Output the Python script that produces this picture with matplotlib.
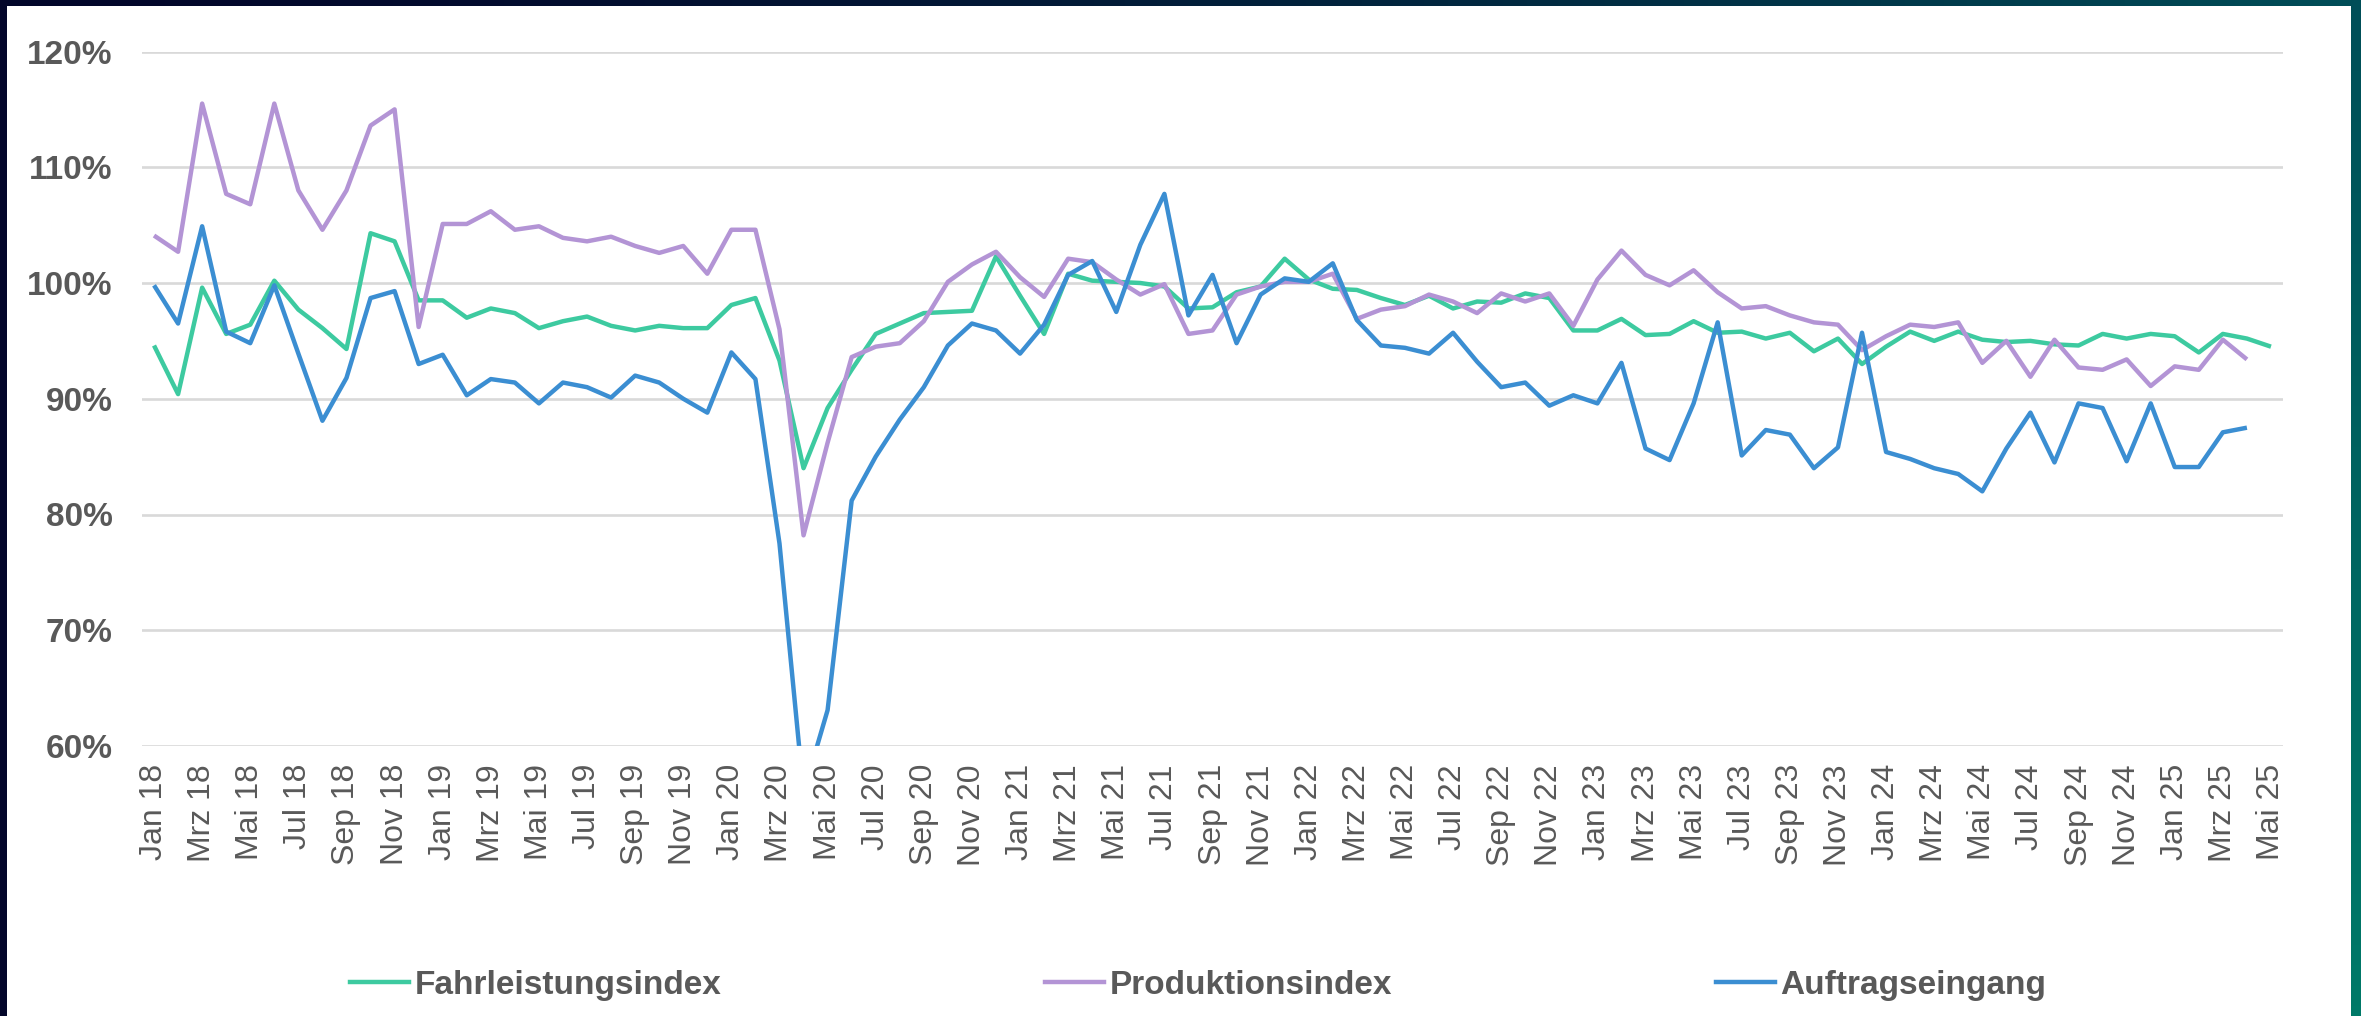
import numpy as np
import matplotlib
matplotlib.use("Agg")
from matplotlib import pyplot as plt
from matplotlib.patches import Rectangle
from matplotlib.lines import Line2D

# monthly values, Jan 18 .. Mai 25 (89 months)
month_names = ["Jan", "Feb", "Mrz", "Apr", "Mai", "Jun",
               "Jul", "Aug", "Sep", "Okt", "Nov", "Dez"]
months = [f"{month_names[k % 12]} {18 + k // 12}" for k in range(89)]

fahrleistung = [94.6, 90.4, 99.6, 95.6, 96.4, 100.2, 97.7, 96.1, 94.3, 104.3, 103.6, 98.5,
                98.5, 97.0, 97.8, 97.4, 96.1, 96.7, 97.1, 96.3, 95.9, 96.3, 96.1, 96.1,
                98.1, 98.7, 93.3, 84.0, 89.2, 92.5, 95.6, 96.5, 97.4, 97.5, 97.6, 102.3,
                98.9, 95.6, 100.8, 100.2, 100.1, 100.0, 99.7, 97.8, 97.9, 99.2, 99.7, 102.1,
                100.3, 99.5, 99.4, 98.7, 98.1, 98.9, 97.8, 98.4, 98.3, 99.1, 98.7, 95.9,
                95.9, 96.9, 95.5, 95.6, 96.7, 95.7, 95.8, 95.2, 95.7, 94.1, 95.2, 93.0,
                94.5, 95.8, 95.0, 95.8, 95.1, 94.9, 95.0, 94.7, 94.6, 95.6, 95.2, 95.6,
                95.4, 94.0, 95.6, 95.2, 94.5]

produktion = [104.1, 102.7, 115.5, 107.7, 106.8, 115.5, 108.0, 104.6, 108.0, 113.6, 115.0, 96.2,
              105.1, 105.1, 106.2, 104.6, 104.9, 103.9, 103.6, 104.0, 103.2, 102.6, 103.2, 100.8,
              104.6, 104.6, 96.0, 78.2, 86.2, 93.6, 94.5, 94.8, 96.7, 100.1, 101.6, 102.7,
              100.5, 98.8, 102.1, 101.8, 100.3, 99.0, 99.9, 95.6, 95.9, 99.0, 99.7, 100.1,
              100.1, 100.8, 96.9, 97.7, 98.0, 99.0, 98.4, 97.4, 99.1, 98.4, 99.1, 96.3,
              100.3, 102.8, 100.7, 99.8, 101.1, 99.2, 97.8, 98.0, 97.2, 96.6, 96.4, 94.2,
              95.4, 96.4, 96.2, 96.6, 93.1, 95.0, 91.9, 95.1, 92.7, 92.5, 93.4, 91.1,
              92.8, 92.5, 95.1, 93.4, np.nan]

auftrag = [99.8, 96.5, 104.9, 95.8, 94.8, 99.8, 93.9, 88.1, 91.8, 98.7, 99.3, 93.0,
           93.8, 90.3, 91.7, 91.4, 89.6, 91.4, 91.0, 90.1, 92.0, 91.4, 90.0, 88.8,
           94.0, 91.7, 77.5, 56.0, 63.1, 81.2, 85.0, 88.2, 91.0, 94.6, 96.5, 95.9,
           93.9, 96.4, 100.7, 101.9, 97.5, 103.3, 107.7, 97.2, 100.7, 94.8, 99.0, 100.4,
           100.1, 101.7, 96.8, 94.6, 94.4, 93.9, 95.7, 93.2, 91.0, 91.4, 89.4, 90.3,
           89.6, 93.1, 85.7, 84.7, 89.6, 96.6, 85.1, 87.3, 86.9, 84.0, 85.8, 95.7,
           85.4, 84.8, 84.0, 83.5, 82.0, 85.7, 88.8, 84.5, 89.6, 89.2, 84.6, 89.6,
           84.1, 84.1, 87.1, 87.5, np.nan]

series_names = ["Fahrleistungsindex", "Produktionsindex", "Auftragseingang"]
series_colors = ["#3DCAA0", "#B394D5", "#3B8ED2"]
yticks = [60, 70, 80, 90, 100, 110, 120]

W, H = 2361, 1016
fig = plt.figure(figsize=(W / 100, H / 100), dpi=100)

# dark gradient frame behind a white panel
bg = fig.add_axes([0, 0, 1, 1])
gx = np.linspace(0, 1, 300)[None, :, None]
gy = np.linspace(0, 1, 100)[:, None, None]
navy = np.array([3, 6, 42]) / 255
right_top = np.array([0, 78, 88]) / 255
right_bot = np.array([0, 121, 104]) / 255
right = right_top + (right_bot - right_top) * gy
t = gx ** 1.6
grad = navy * (1 - t) + right * t
bg.imshow(grad, extent=[0, W, H, 0], aspect="auto")
bg.add_patch(Rectangle((7, 6), 2351 - 7, H - 6, facecolor="white", edgecolor="none"))
bg.set_xlim(0, W)
bg.set_ylim(H, 0)
bg.axis("off")

ax = fig.add_axes([142 / W, 1 - 746 / H, (2283 - 142) / W, (746 - 51.5) / H])
ax.set_facecolor("white")
x = np.arange(len(months))
for vals, name, col in zip([fahrleistung, produktion, auftrag], series_names, series_colors):
    ax.plot(x, vals, color=col, lw=3.2, label=name, solid_joinstyle="round", solid_capstyle="butt")

ax.set_xlim(-0.5, len(months) - 0.5)
ax.set_ylim(60, 120)
ax.set_yticks(yticks)
ax.set_yticklabels([f"{v}%" for v in yticks], fontsize=24, fontweight="bold",
                   color="#595959", family="Liberation Sans")
ax.set_xticks(x[::2])
ax.set_xticklabels(months[::2], rotation=90, fontsize=23, color="#595959",
                   family="Liberation Sans", va="top", ha="center")
ax.tick_params(axis="y", length=0, pad=21)
ax.tick_params(axis="x", length=0, pad=13)
ax.grid(axis="y", color="#D9D9D9", lw=1.9)
ax.set_axisbelow(True)
for s in ax.spines.values():
    s.set_visible(False)

handles = [Line2D([], [], color=c, lw=3.2) for c in series_colors]
fig.legend(handles, series_names, loc="center", bbox_to_anchor=(0.5074, 0.0305), ncol=3,
           frameon=False, handlelength=1.77, handletextpad=0.18, columnspacing=9.7,
           prop={"family": "Liberation Sans", "weight": "bold", "size": 24},
           labelcolor="#595959")

fig.savefig("out.png", dpi=100)
